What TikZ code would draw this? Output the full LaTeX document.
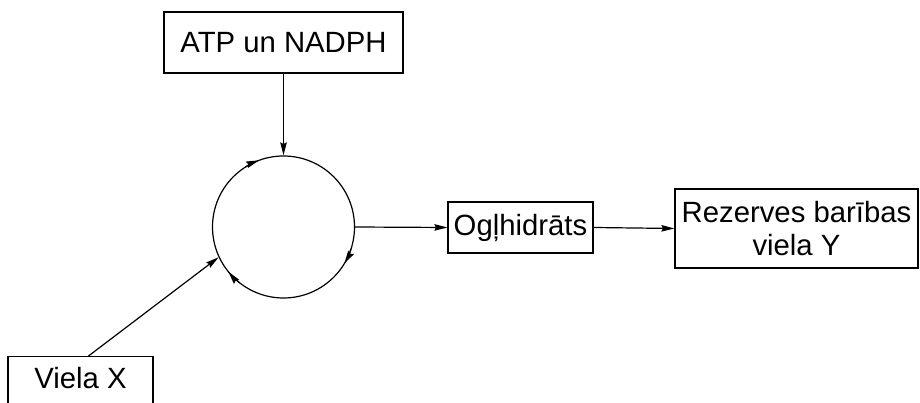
\documentclass[tikz,border=0pt]{standalone}
\usepackage{fontspec}
\setmainfont{Liberation Sans}
\usetikzlibrary{arrows.meta}
\begin{document}
\begin{tikzpicture}[x=1pt,y=1pt,
  every path/.style={line width=1.2pt},
  box/.style={draw, line width=1.2pt, inner sep=0pt, font=\fontsize{29.3}{33}\selectfont, align=center},
  tip/.style={-{Stealth[length=13pt,width=6.5pt,inset=1.5pt]}},
  ]
\useasboundingbox (0,0) rectangle (920,403);
\node[box, minimum width=239pt, minimum height=61pt] (atp) at (283.5,360.5) {ATP un NADPH};
\node[circle, minimum size=142pt, inner sep=0pt] (cyc) at (283.5,176) {};
\draw (cyc.center) circle[radius=71pt];
\draw[tip] ([shift={(123:71pt)}]cyc.center) arc[start angle=123, end angle=110, radius=71pt];
\draw[tip] ([shift={(-18:71pt)}]cyc.center) arc[start angle=-18, end angle=-31, radius=71pt];
\draw[tip] ([shift={(232:71pt)}]cyc.center) arc[start angle=232, end angle=219, radius=71pt];
\node[box, minimum width=145pt, minimum height=51pt] (og) at (520.5,175.5) {Ogļhidrāts};
\node[box, minimum width=243pt, minimum height=79pt] (rez) at (796.5,174.5) {Rezerves barības\\viela Y};
\node[box, minimum width=145pt, text height=32pt, text depth=30pt, anchor=north] (vx) at (80.5,47) {Viela X};
\draw[tip] (atp.south) -- (cyc.north);
\draw[tip] (cyc.east) -- (og.west);
\draw[tip] (og.east) -- (rez.west);
\draw[tip] ([xshift=8pt]vx.north) -- (cyc.205);
\end{tikzpicture}
\end{document}
